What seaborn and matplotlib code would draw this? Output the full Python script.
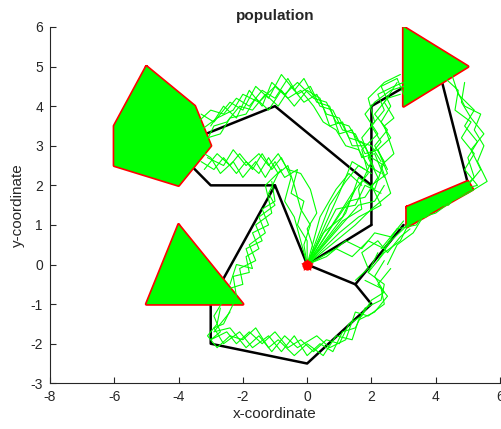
import matplotlib
matplotlib.use("Agg")
import matplotlib.pyplot as plt
import pandas as pd
import seaborn as sns

# ---- map data -------------------------------------------------------------
start = (0.0, 0.0)

obstacle_hex = [(-5, 5), (-3.5, 4), (-3, 3), (-4, 2), (-6, 2.5), (-6, 3.5)]
obstacle_tri_low = [(-4, 1), (-2, -1), (-5, -1)]
obstacle_tri_top = [(3, 6), (5, 5), (3, 4)]
obstacle_bar = [(3.1, 1.45), (5.0, 2.1), (5.15, 1.9), (3.1, 0.95)]
obstacles = [obstacle_hex, obstacle_tri_low, obstacle_tri_top, obstacle_bar]

# road network (black polylines)
road_a = [(0, 0), (-1, 2), (-3, 2), (-3.55, 2.45)]
road_b = [(-3.15, 3.3), (-1, 4), (2, 2)]
road_c = [(2, 1), (2, 4), (2.95, 4.45)]
road_d = [(0, 0), (2, 1)]
road_e = [(-1, 2), (-2.62, -0.38)]
road_f = [(-3, -1), (-3, -2), (0, -2.5), (2, -1), (1.5, -0.5), (0, 0)]
road_g = [(1.5, -0.5), (3, 1)]
road_h = [(4.2, 4.6), (5.0, 2.05)]
roads = [road_a, road_b, road_c, road_d, road_e, road_f, road_g, road_h]

# population paths (green)
pop_top = [
    [(-3.3, 3.4), (-2.8, 3.7), (-2.3, 3.9), (-2.0, 4.3), (-1.5, 4.1), (-1.0, 4.5), (-0.6, 4.2), (-0.2, 4.4), (0.2, 4.0), (0.5, 3.6), (0.9, 3.4), (1.2, 3.0), (1.6, 2.9), (1.9, 2.5), (2.3, 2.3)],
    [(-3.2, 3.0), (-2.9, 3.5), (-2.5, 3.6), (-2.1, 4.0), (-1.7, 3.9), (-1.3, 4.3), (-0.9, 4.0), (-0.5, 4.5), (-0.1, 4.1), (0.3, 4.3), (0.6, 3.8), (1.0, 3.7), (1.3, 3.2), (1.7, 3.1), (2.0, 2.7), (2.4, 2.5)],
    [(-3.4, 3.6), (-3.0, 3.9), (-2.6, 3.8), (-2.2, 4.2), (-1.8, 4.0), (-1.4, 4.4), (-1.0, 4.2), (-0.6, 4.7), (-0.3, 4.3), (0.1, 4.5), (0.4, 4.0), (0.8, 3.9), (1.1, 3.4), (1.5, 3.3), (1.8, 2.8), (2.2, 2.9), (2.5, 2.4)],
    [(-3.1, 3.2), (-2.7, 3.3), (-2.4, 3.7), (-1.9, 3.8), (-1.6, 4.2), (-1.2, 3.9), (-0.8, 4.4), (-0.4, 4.0), (0.0, 4.4), (0.4, 4.2), (0.7, 3.5), (1.1, 3.6), (1.4, 3.0), (1.8, 3.0), (2.1, 2.4)],
    [(-3.0, 3.5), (-2.6, 4.0), (-2.2, 3.7), (-1.8, 4.4), (-1.4, 4.0), (-1.1, 4.6), (-0.7, 4.3), (-0.3, 4.6), (0.2, 4.2), (0.6, 4.1), (0.9, 3.6), (1.3, 3.5), (1.6, 3.1), (2.0, 3.0), (2.3, 2.6)],
    [(-3.3, 3.8), (-2.9, 3.6), (-2.4, 4.1), (-2.0, 3.9), (-1.6, 4.5), (-1.2, 4.2), (-0.8, 4.8), (-0.4, 4.4), (-0.1, 4.7), (0.3, 4.1), (0.7, 4.0), (1.0, 3.3), (1.4, 3.4), (1.7, 2.7), (2.1, 2.8), (2.4, 2.2)],
]
pop_left = [
    [(-3.3, 2.6), (-2.9, 2.4), (-2.6, 2.7), (-2.2, 2.3), (-1.9, 2.6), (-1.5, 2.3), (-1.2, 2.7), (-0.9, 2.3), (-0.6, 2.5), (-0.4, 2.0), (-0.2, 1.4), (0.1, 1.0), (-0.1, 0.5), (0.0, 0.0)],
    [(-3.4, 2.9), (-3.0, 2.7), (-2.7, 2.3), (-2.3, 2.6), (-2.0, 2.2), (-1.6, 2.6), (-1.3, 2.2), (-1.0, 2.6), (-0.7, 2.2), (-0.3, 2.4), (-0.5, 1.8), (-0.1, 1.6), (-0.3, 1.0), (0.0, 0.6), (0.0, 0.0)],
    [(-3.2, 2.4), (-2.8, 2.8), (-2.4, 2.5), (-2.1, 2.8), (-1.7, 2.4), (-1.4, 2.8), (-1.1, 2.4), (-0.8, 2.7), (-0.5, 2.2), (-0.7, 1.6), (-0.4, 1.2), (-0.2, 0.6), (0.0, 0.0)],
    [(-3.1, 2.7), (-2.6, 2.5), (-2.3, 2.9), (-1.9, 2.5), (-1.5, 2.8), (-1.2, 2.5), (-0.9, 2.8), (-0.6, 2.4), (-0.2, 2.3), (0.1, 1.9), (0.3, 1.3), (0.0, 0.9), (0.2, 0.4), (0.0, 0.0)],
]
pop_down = [
    [(-0.9, 2.3), (-1.2, 1.8), (-1.0, 1.5), (-1.5, 1.2), (-1.3, 0.8), (-1.8, 0.5), (-1.6, 0.1), (-2.1, -0.1), (-2.0, -0.5), (-2.4, -0.6)],
    [(-1.1, 2.1), (-1.0, 1.6), (-1.4, 1.4), (-1.2, 1.0), (-1.7, 0.8), (-1.5, 0.4), (-1.9, 0.2), (-1.8, -0.2), (-2.3, -0.3), (-2.2, -0.8)],
    [(-0.8, 2.4), (-1.3, 2.0), (-1.1, 1.3), (-1.6, 1.0), (-1.4, 0.6), (-1.9, 0.4), (-1.7, -0.1), (-2.2, 0.0), (-2.4, -0.5)],
]
pop_bottom = [
    [(-2.6, -0.9), (-2.9, -1.3), (-2.7, -1.7), (-3.0, -1.9), (-2.5, -1.7), (-2.2, -2.0), (-1.8, -1.7), (-1.4, -2.0), (-1.0, -1.7), (-0.6, -2.1), (-0.2, -1.9), (0.2, -2.2), (0.6, -1.9), (1.0, -2.0), (1.3, -1.5), (1.7, -1.3), (2.0, -0.9), (2.4, -0.7), (2.1, -0.3), (2.4, 0.1)],
    [(-2.3, -1.0), (-2.6, -1.5), (-2.9, -1.6), (-2.6, -2.0), (-2.1, -1.7), (-1.7, -2.1), (-1.2, -1.8), (-0.8, -2.2), (-0.4, -1.8), (0.0, -2.3), (0.4, -2.0), (0.8, -2.2), (1.1, -1.7), (1.5, -1.6), (1.8, -1.1), (2.3, -0.9), (2.4, -0.5), (1.9, -0.2), (2.2, 0.3)],
    [(-2.7, -1.1), (-2.8, -1.5), (-3.1, -1.8), (-2.8, -2.1), (-2.4, -1.8), (-2.0, -1.9), (-1.6, -1.6), (-1.2, -2.1), (-0.9, -1.9), (-0.4, -2.3), (0.0, -2.0), (0.5, -2.3), (0.9, -1.8), (1.4, -1.9), (1.6, -1.4), (2.1, -1.2), (2.5, -0.8), (2.2, -0.5), (2.6, -0.1)],
    [(-2.4, -1.2), (-2.9, -1.7), (-2.4, -1.6), (-1.9, -2.1), (-1.5, -1.8), (-1.1, -2.2), (-0.7, -1.8), (-0.3, -2.1), (0.3, -1.8), (0.7, -2.1), (1.2, -1.9), (1.5, -1.2), (1.9, -1.3), (2.4, -1.0), (2.3, -0.6), (1.8, -0.4)],
]
pop_up = [
    [(0, 0), (0.8, 1.0), (1.3, 1.6), (1.8, 1.7), (2.2, 2.2), (1.9, 2.7), (2.3, 3.1), (2.0, 3.5), (2.4, 3.9), (2.2, 4.3), (2.7, 4.5), (3.0, 4.6)],
    [(0, 0), (1.2, 1.3), (1.6, 2.2), (2.1, 1.9), (2.4, 2.6), (2.1, 3.0), (2.5, 3.4), (2.1, 3.8), (2.5, 4.2), (2.9, 4.3)],
    [(0, 0), (1.0, 0.8), (1.6, 1.2), (2.3, 1.5), (2.0, 2.0), (2.5, 2.3), (2.2, 2.9), (2.6, 3.2), (2.3, 3.6), (2.6, 4.0), (2.3, 4.5), (2.8, 4.7), (3.0, 4.3)],
    [(0, 0), (1.4, 1.8), (1.9, 2.3), (1.7, 2.9), (2.2, 3.3), (1.8, 3.8), (2.1, 4.1), (2.6, 4.4), (3.0, 4.5)],
    [(0, 0), (1.5, 1.0), (2.0, 1.4), (2.6, 1.8), (2.3, 2.5), (2.7, 2.8), (2.4, 3.5), (2.7, 3.7), (2.4, 4.1), (2.8, 4.6)],
    [(0, 0), (1.1, 1.1), (1.7, 1.4), (1.6, 1.9), (2.0, 2.6), (1.7, 3.2), (2.1, 3.6), (1.9, 4.2), (2.4, 4.6), (2.9, 4.8)],
    [(0, 0), (0.7, 1.5), (1.2, 2.1), (1.6, 2.5), (2.0, 2.3)],
    [(0, 0), (1.0, 1.8), (1.4, 2.6), (1.8, 2.4)],
    [(0, 0), (0.4, 1.2), (0.9, 1.9), (1.3, 2.3), (1.7, 2.0)],
    [(0, 0), (1.6, 1.5), (2.1, 1.6), (2.4, 2.0)],
    [(0, 0), (0.5, 0.8), (1.1, 1.2), (1.5, 1.9)],
    [(0, 0), (0.9, 1.4), (1.5, 1.5), (1.8, 2.0), (2.3, 1.8)],
]
pop_right = [
    [(2.2, 0.1), (2.6, 0.6), (3.0, 0.9), (3.4, 1.3), (3.9, 1.4), (4.3, 1.8), (4.8, 1.9), (5.2, 2.2), (5.0, 2.7), (5.3, 3.1), (4.9, 3.5), (5.2, 3.9), (4.7, 4.3), (4.5, 4.8)],
    [(1.9, -0.2), (2.4, 0.3), (2.9, 0.6), (3.2, 1.1), (3.7, 1.2), (4.1, 1.6), (4.6, 1.7), (5.0, 2.0), (5.4, 2.4), (5.1, 2.9), (5.5, 3.3), (5.1, 3.7), (4.8, 4.1), (4.9, 4.6)],
    [(2.5, 0.0), (2.8, 0.5), (3.3, 0.8), (3.6, 1.2), (4.0, 1.3), (4.5, 1.6), (5.0, 1.8), (5.6, 2.1), (5.3, 2.6), (5.5, 3.0), (5.2, 3.4), (5.4, 3.8), (4.9, 4.0), (4.6, 4.5)],
    [(2.3, 0.4), (2.8, 0.9), (3.4, 1.0), (3.8, 1.5), (4.4, 1.5), (4.8, 1.9), (5.3, 2.0), (4.9, 2.4), (5.2, 2.8), (4.8, 3.2), (5.1, 3.6), (4.6, 3.9), (4.7, 4.4), (4.3, 4.7)],
    [(0, 0), (0.6, 0.2), (1.2, 0.6), (1.7, 0.4), (2.1, 0.8), (2.6, 0.7), (3.0, 1.1)],
    [(0, 0), (0.9, 0.4), (1.4, 0.2), (1.9, 0.6), (2.4, 0.4), (2.8, 0.9)],
    [(1.5, -0.4), (1.9, -0.1), (1.7, 0.3), (2.2, 0.6), (2.5, 0.3), (2.9, 0.7), (3.2, 0.9)],
]
population = pop_top + pop_left + pop_down + pop_bottom + pop_up + pop_right

x_ticks = [-8, -6, -4, -2, 0, 2, 4, 6]
y_ticks = [-3, -2, -1, 0, 1, 2, 3, 4, 5, 6]


def to_frame(polylines, close=False):
    rows = []
    for k, line in enumerate(polylines):
        pts = list(line) + ([line[0]] if close else [])
        for order, (x, y) in enumerate(pts):
            rows.append({"id": k, "order": order, "x": x, "y": y})
    return pd.DataFrame(rows)


sns.set_theme(style="white")
plt.rcParams["font.family"] = ["Liberation Sans", "DejaVu Sans"]

fig = plt.figure(figsize=(5.02, 4.29), dpi=100)
ax = fig.add_axes([0.0996, 0.1065, 0.8964, 0.8306])

GREEN = "#00ff00"
RED = "#ff0000"

# roads
sns.lineplot(data=to_frame(roads), x="x", y="y", units="id", estimator=None,
             sort=False, color="black", linewidth=1.8, ax=ax, zorder=2,
             legend=False)

# obstacle outlines
sns.lineplot(data=to_frame(obstacles, close=True), x="x", y="y", units="id",
             estimator=None, sort=False, color=RED, linewidth=2.4, ax=ax,
             zorder=3, legend=False)

# obstacle interiors crowded by individuals
for poly in obstacles:
    xs, ys = zip(*poly)
    ax.fill(xs, ys, color=GREEN, lw=0, zorder=4)

# population
sns.lineplot(data=to_frame(population), x="x", y="y", units="id",
             estimator=None, sort=False, color=GREEN, linewidth=0.8, ax=ax,
             zorder=5, legend=False)

# start point
sns.scatterplot(x=[start[0]], y=[start[1]], color=RED, s=45, marker="o",
                edgecolor=RED, ax=ax, zorder=6, legend=False)
sns.scatterplot(x=[start[0]], y=[start[1]], color=RED, s=70, marker="*",
                edgecolor=RED, ax=ax, zorder=6, legend=False)

ax.set_xlim(-8, 6)
ax.set_ylim(-3, 6)
ax.set_xticks(x_ticks)
ax.set_yticks(y_ticks)
ax.set_xticklabels([str(t) for t in x_ticks])
ax.set_yticklabels([str(t) for t in y_ticks])

axis_color = "#262626"
for side in ("top", "right"):
    ax.spines[side].set_visible(False)
for side in ("left", "bottom"):
    ax.spines[side].set_color(axis_color)
    ax.spines[side].set_linewidth(0.8)
ax.tick_params(direction="in", length=4, width=0.8, colors=axis_color,
               labelsize=10, pad=5, left=True, bottom=True)

ax.set_title("population", fontsize=11, fontweight="bold", pad=5)
ax.set_xlabel("x-coordinate", fontsize=11, color=axis_color, labelpad=2)
ax.set_ylabel("y-coordinate", fontsize=11, color=axis_color, labelpad=4)

fig.savefig("out.png", dpi=100)
